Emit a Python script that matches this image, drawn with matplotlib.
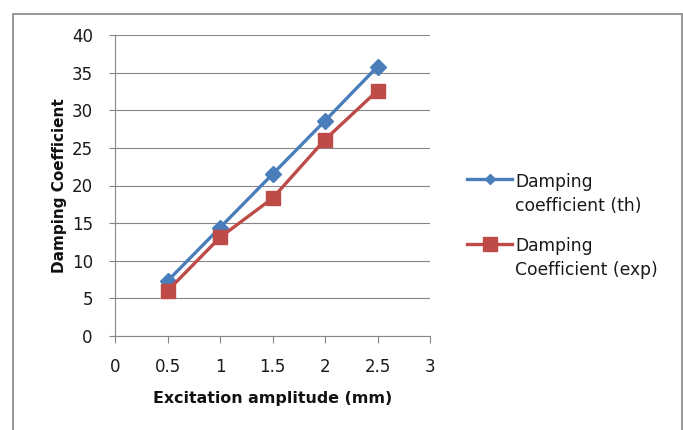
import matplotlib
matplotlib.use("Agg")
import matplotlib.pyplot as plt
from matplotlib.lines import Line2D
from matplotlib.patches import Rectangle

x_vals = [0.5, 1.0, 1.5, 2.0, 2.5]
th_vals = [7.3, 14.4, 21.5, 28.6, 35.8]
exp_vals = [6.0, 13.1, 18.3, 26.1, 32.6]
series_labels = ["Damping\ncoefficient (th)", "Damping\nCoefficient (exp)"]
x_ticks = [0, 0.5, 1, 1.5, 2, 2.5, 3]
x_tick_labels = ["0", "0.5", "1", "1.5", "2", "2.5", "3"]
y_ticks = [0, 5, 10, 15, 20, 25, 30, 35, 40]

BLUE = "#4A7EBB"
RED = "#BE4B48"
GRID = "#868686"

plt.rcParams['font.family'] = ['DejaVu Sans']

W, H = 683, 430
fig = plt.figure(figsize=(W / 100, H / 100), dpi=100)
ax = fig.add_axes([115 / W, 1 - 336 / H, (430 - 115) / W, (336 - 35) / H])

ax.plot(x_vals, th_vals, color=BLUE, lw=2.4, marker='D', markersize=8.3,
        markerfacecolor=BLUE, markeredgecolor=BLUE, zorder=3)
ax.plot(x_vals, exp_vals, color=RED, lw=2.4, marker='s', markersize=9.8,
        markerfacecolor=RED, markeredgecolor=RED, zorder=3)

ax.set_xlim(0, 3)
ax.set_ylim(0, 40)
ax.set_xticks(x_ticks)
ax.set_xticklabels(x_tick_labels)
ax.set_yticks(y_ticks)
ax.yaxis.grid(True, color=GRID, lw=0.8)
ax.set_axisbelow(True)
for s in ['top', 'right']:
    ax.spines[s].set_visible(False)
for s in ['left', 'bottom']:
    ax.spines[s].set_color(GRID)
    ax.spines[s].set_linewidth(0.8)
ax.tick_params(axis='x', length=5, width=0.8, color=GRID, pad=11,
               labelsize=12, labelcolor='#1a1a1a')
ax.tick_params(axis='y', length=4, width=0.8, color=GRID, pad=12,
               labelsize=12, labelcolor='#1a1a1a')

ax.set_xlabel("Excitation amplitude (mm)", fontsize=11.4, fontweight='bold',
              labelpad=11, color='#111111')
ax.set_ylabel("Damping Coefficient", fontsize=11, fontweight='bold',
              labelpad=3, color='#111111')

# legend (manual, Excel-style: marker aligned with first text line)
leg_colors = [BLUE, RED]
leg_markers = ['D', 's']
leg_msizes = [5.5, 9.7]
leg_y = [178.5, 243.5]
leg_base = [186.7, 250.7]
for lab, col, mk, ms, yy, yb in zip(series_labels, leg_colors, leg_markers,
                                    leg_msizes, leg_y, leg_base):
    fy = 1 - yy / H
    fig.add_artist(Line2D([467 / W, 512 / W], [fy, fy], color=col, lw=2.4,
                          transform=fig.transFigure))
    fig.add_artist(Line2D([490 / W], [fy], color=col, marker=mk, markersize=ms,
                          markerfacecolor=col, markeredgecolor=col,
                          transform=fig.transFigure))
    for i, line in enumerate(lab.split("\n")):
        fig.text(515 / W, 1 - (yb + 24.7 * i) / H, line, fontsize=12.3,
                 va='baseline', ha='left', color='#1a1a1a')

# outer chart border
fig.add_artist(Rectangle((12.5 / W, -0.05), (682 - 12.5) / W, 1.05 - 14 / H,
                         transform=fig.transFigure, fill=False,
                         edgecolor=GRID, lw=1.2))

fig.savefig("out.png", dpi=100)
